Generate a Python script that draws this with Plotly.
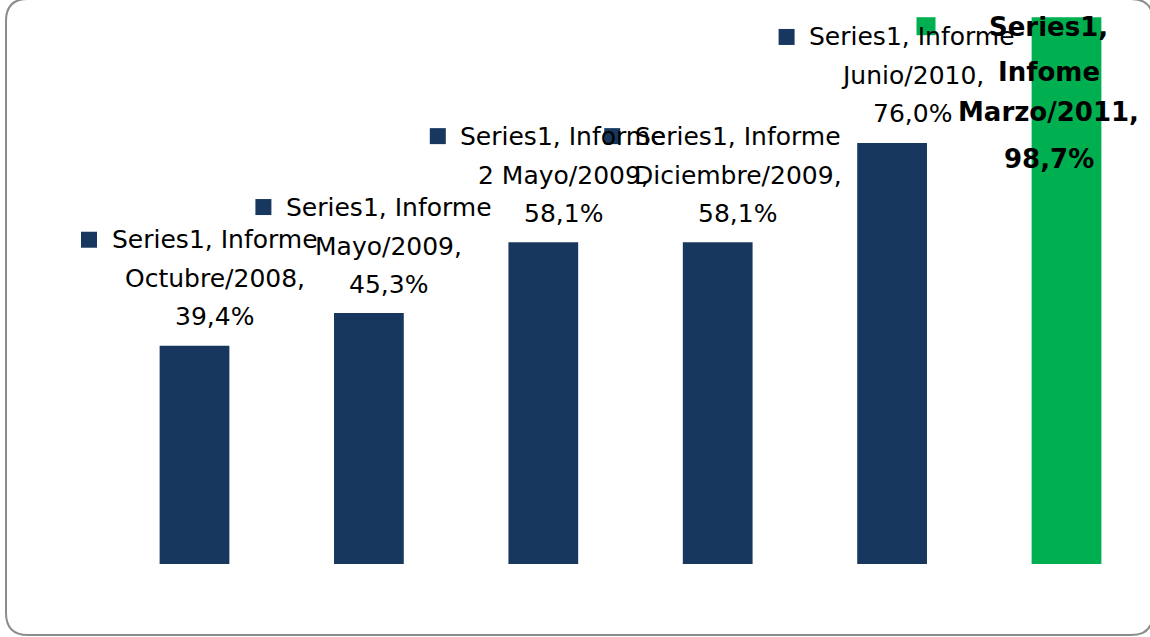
import plotly.graph_objects as go

# ---------------- data ----------------
series_name = "Series1"
categories = [
    "Informe Octubre/2008",
    "Informe Mayo/2009",
    "Informe 2 Mayo/2009",
    "Informe Diciembre/2009",
    "Informe Junio/2010",
    "Infome Marzo/2011",
]
values = [39.4, 45.3, 58.1, 58.1, 76.0, 98.7]
highlight = [False, False, False, False, False, True]

# ---------------- style ----------------
NAVY = "#17375E"
GREEN = "#00B050"
TEXT = "#000000"
W, H = 1150, 637
ML, MR, MT, MB = 20, 0, 10, 73
PW, PH = W - ML - MR, H - MT - MB
PX_PER_CAT = 174.4
X0_PIX = 194.5  # pixel centre of first category
x_start = -(X0_PIX - ML) / PX_PER_CAT
x_end = x_start + PW / PX_PER_CAT

FONT = "DejaVu Sans"
FS = 25
FS_B = 26

colors = [GREEN if h else NAVY for h in highlight]
xs = list(range(len(categories)))


def fmt(v):
    return f"{v:.1f}".replace(".", ",") + "%"


fig = go.Figure(
    go.Bar(
        x=xs,
        y=values,
        width=0.4,
        marker=dict(color=colors, line=dict(width=0)),
        hoverinfo="skip",
    )
)

annotations = []
shapes = []
for i, (cat, v, h) in enumerate(zip(categories, values, highlight)):
    first, rest = cat.split(" ", 1)
    if not h:
        lines = [f"{series_name}, {first}", f"{rest},", fmt(v)]
        shifts = [106, 67, 29]
        for ln, dy in zip(lines, shifts):
            annotations.append(dict(
                x=i, y=v, xref="x", yref="y", text=ln, showarrow=False,
                xanchor="center", yanchor="middle", xshift=20, yshift=dy,
                font=dict(family=FONT, size=FS, color=TEXT),
            ))
        shapes.append(dict(
            type="rect", xref="x", yref="y", xsizemode="pixel", ysizemode="pixel",
            xanchor=i, yanchor=v, x0=-113.5, x1=-97.5, y0=98, y1=114,
            fillcolor=colors[i], line=dict(width=0),
        ))
    else:
        lines = [f"{series_name},", first, f"{rest},", fmt(v)]
        shifts = [-10, -55, -95, -142]
        for ln, dy in zip(lines, shifts):
            annotations.append(dict(
                x=i, y=v, xref="x", yref="y", text=f"<b>{ln}</b>", showarrow=False,
                xanchor="center", yanchor="middle", xshift=-18, yshift=dy,
                font=dict(family=FONT, size=FS_B, color=TEXT),
            ))
        shapes.append(dict(
            type="rect", xref="x", yref="y", xsizemode="pixel", ysizemode="pixel",
            xanchor=i, yanchor=v, x0=-150, x1=-131, y0=-18, y1=0,
            fillcolor=colors[i], line=dict(width=0),
        ))


# rounded outer frame (pixel coords converted to paper)
def px(xp):
    return (xp - ML) / PW


def py(yp):
    return (H - MB - yp) / PH


L, T, R, B, r = 6, -1, 1153, 635, 22
path = (
    f"M {px(L + r)} {py(T)} L {px(R - r)} {py(T)} "
    f"Q {px(R)} {py(T)} {px(R)} {py(T + r)} L {px(R)} {py(B - r)} "
    f"Q {px(R)} {py(B)} {px(R - r)} {py(B)} L {px(L + r)} {py(B)} "
    f"Q {px(L)} {py(B)} {px(L)} {py(B - r)} L {px(L)} {py(T + r)} "
    f"Q {px(L)} {py(T)} {px(L + r)} {py(T)} Z"
)
shapes.append(dict(type="path", xref="paper", yref="paper", path=path,
                   line=dict(color="#8C8C8C", width=2), layer="above"))

fig.update_layout(
    width=W, height=H,
    margin=dict(l=ML, r=MR, t=MT, b=MB, pad=0),
    paper_bgcolor="white", plot_bgcolor="white",
    showlegend=False,
    xaxis=dict(range=[x_start, x_end], visible=False, fixedrange=True),
    yaxis=dict(range=[0, 100], visible=False, fixedrange=True),
    annotations=annotations,
    shapes=shapes,
)

fig.write_html(
    "out.html",
    config={"displayModeBar": False},
    post_script="document.body.style.margin='0';document.body.style.overflow='hidden';",
)
